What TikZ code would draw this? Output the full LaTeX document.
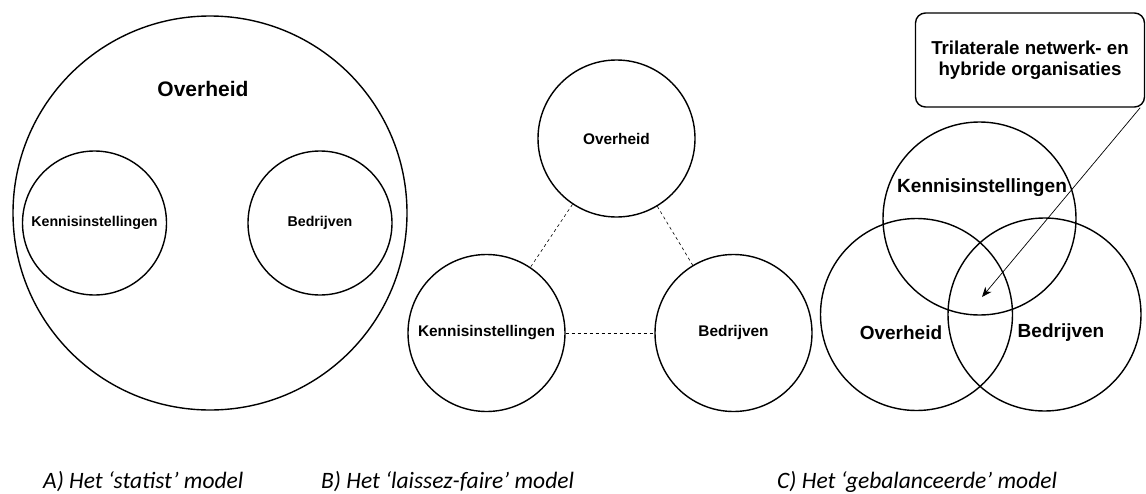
\documentclass[tikz,border=0pt]{standalone}
\usepackage{fontspec}
\usepackage{tikz}
\newfontfamily\lblfont{Liberation Sans}
\newfontfamily\capfont{Carlito}
\usetikzlibrary{shapes,arrows,positioning,calc,arrows.meta}

\begin{document}
\begin{tikzpicture}[x=1pt,y=-1pt,
    ring/.style={circle,draw,line width=1.4pt,inner sep=0pt},
    lbl/.style={font=\lblfont\bfseries\fontsize{#1}{#1}\selectfont,inner sep=0pt},
    captxt/.style={font=\capfont\itshape\fontsize{23.5}{26}\selectfont,inner sep=0pt}]
    \useasboundingbox (0,0) rectangle (1146,493);
    % A) statist
    \node[ring,minimum size=394pt] (aO) at (210,213) {};
    \node[ring,minimum size=144pt] (aK) at (94.5,223) {};
    \node[ring,minimum size=144pt] (aB) at (320,223) {};
    \node[lbl=21] (aOt) at (203,89) {Overheid};
    \node[lbl=14.2] (aKt) at (aK) {Kennisinstellingen};
    \node[lbl=14.2] (aBt) at (aB) {Bedrijven};
    % B) laissez-faire
    \node[ring,minimum size=157pt,font=\lblfont\bfseries\fontsize{15.4}{15.4}\selectfont] (bO) at (616.5,138.5) {Overheid};
    \node[ring,minimum size=157pt,font=\lblfont\bfseries\fontsize{15.4}{15.4}\selectfont] (bK) at (486.5,333) {Kennisinstellingen};
    \node[ring,minimum size=157pt,font=\lblfont\bfseries\fontsize{15.4}{15.4}\selectfont] (bB) at (733.5,333) {Bedrijven};
    \draw[dashed,line width=0.6pt] (bO) -- (bK);
    \draw[dashed,line width=0.6pt] (bO) -- (bB);
    \draw[dashed,line width=0.6pt] (bK) -- (bB);
    % C) gebalanceerd
    \node[ring,minimum size=193pt] (cK) at (979.5,218.5) {};
    \node[ring,minimum size=192pt] (cO) at (916.5,314.5) {};
    \node[ring,minimum size=193pt] (cB) at (1044.5,314.5) {};
    \node[lbl=19.1] (cKt) at (982,188) {Kennisinstellingen};
    \node[lbl=19] (cOt) at (901,333) {Overheid};
    \node[lbl=19] (cBt) at (1061,333) {Bedrijven};
    \node[draw,line width=1.4pt,rounded corners=10pt,minimum width=229pt,minimum height=94pt,
          align=center,inner sep=0pt,font=\lblfont\bfseries\fontsize{18.7}{21.5}\selectfont]
          (box) at (1030,60) {Trilaterale netwerk- en\\hybride organisaties};
    \coordinate (tip) at (982,297);
    \draw[-{Stealth[length=10pt,width=8pt,inset=3pt]},line width=0.7pt] ($(box.south east)+(-5,0)$) -- (tip);
    % captions
    \node[captxt,anchor=west] (capA) at (43,482) {A) Het ‘statist’ model};
    \node[captxt,anchor=west] (capB) at (321,482) {B) Het ‘laissez-faire’ model};
    \node[captxt,anchor=west] (capC) at (777,482) {C) Het ‘gebalanceerde’ model};
\end{tikzpicture}
\end{document}
